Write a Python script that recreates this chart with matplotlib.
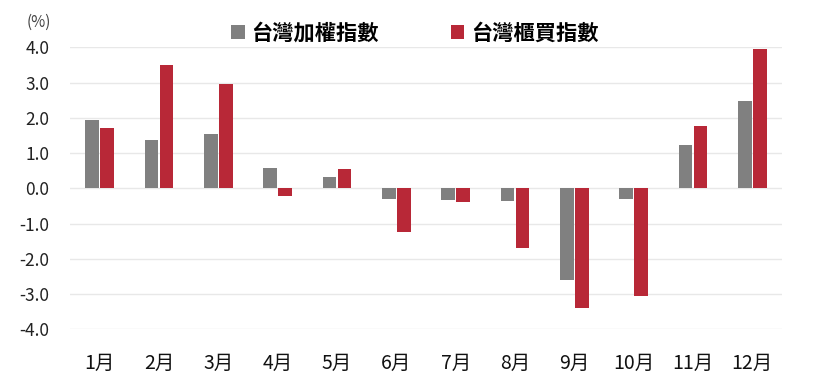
import numpy as np
import matplotlib; matplotlib.use("Agg")
import matplotlib.pyplot as plt

plt.rcParams["font.family"] = ["Noto Sans CJK TC", "DejaVu Sans"]

months = ["1月", "2月", "3月", "4月", "5月", "6月", "7月", "8月", "9月", "10月", "11月", "12月"]
taiex = [1.94, 1.37, 1.53, 0.58, 0.33, -0.31, -0.33, -0.35, -2.59, -0.30, 1.23, 2.48]
otc = [1.70, 3.50, 2.96, -0.21, 0.54, -1.23, -0.39, -1.70, -3.40, -3.05, 1.77, 3.96]
yticks = [4, 3, 2, 1, 0, -1, -2, -3, -4]

GRAY, RED = "#808080", "#B82837"

fig = plt.figure(figsize=(8.13, 3.89), dpi=100)
ax = fig.add_axes([0.0861, 0.1535, 0.8757, 0.7249])

x = np.arange(len(months))
w = 0.23
ax.bar(x - 0.126, taiex, w, color=GRAY, label="台灣加權指數", zorder=3)
ax.bar(x + 0.126, otc, w, color=RED, label="台灣櫃買指數", zorder=3)

ax.set_xlim(-0.5, len(months) - 0.5)
ax.set_ylim(-4, 4)
ax.set_yticks(yticks)
ax.set_yticklabels([f"{v:.1f}" for v in yticks], fontsize=12.5, color="#222222")
ax.set_xticks(x)
ax.set_xticklabels(months, fontsize=14, color="#111111")
ax.tick_params(axis="both", length=0)
ax.tick_params(axis="y", pad=15)
ax.tick_params(axis="x", pad=17)
ax.grid(axis="y", color="#e8e8e8", lw=1, zorder=0)
for s in ax.spines.values():
    s.set_visible(False)

fig.text(39 / 813, 1 - 22 / 389, "(%)", fontsize=11, color="#444444", ha="center", va="center")
fig.legend(loc="center", bbox_to_anchor=(414.5 / 813, 1 - 33 / 389), ncol=2, frameon=False,
           prop={"size": 15.3, "weight": "bold"}, handlelength=0.65, handleheight=0.65,
           handletextpad=0.3, columnspacing=3.4)

plt.savefig("out.png", dpi=100)
